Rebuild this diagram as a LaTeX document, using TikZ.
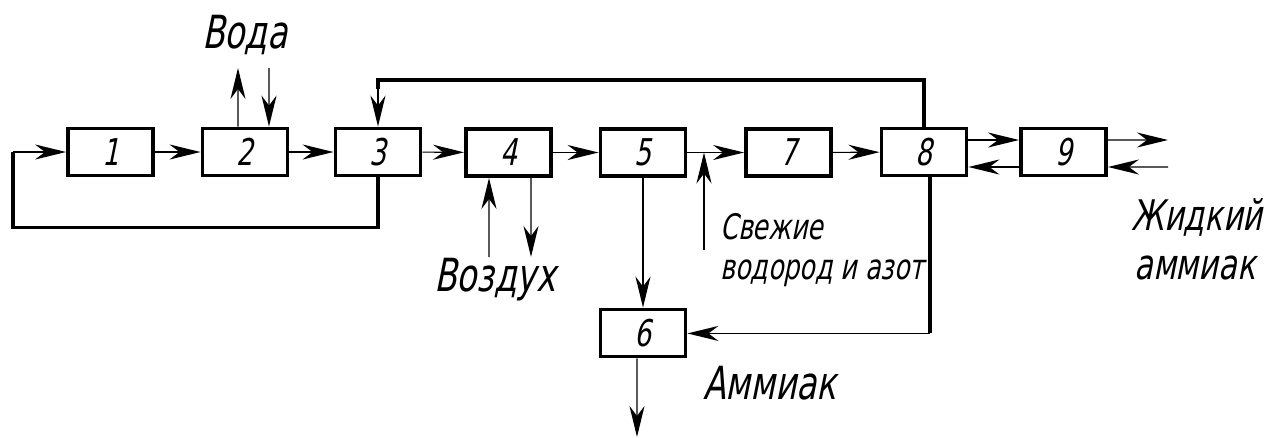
\documentclass[tikz,border=0pt]{standalone}
\usepackage{fontspec}
\setmainfont{DejaVu Sans}[FakeSlant=0.2,FakeStretch=0.72]
\usepackage{tikz}
\usetikzlibrary{arrows.meta,positioning,calc}

\begin{document}
\begin{tikzpicture}[
    x=0.02cm, y=-0.02cm,
    blok/.style={rectangle, draw, line width=2.2pt, minimum width=1.7cm, minimum height=0.94cm, inner sep=0pt, font=\fontsize{21}{23}\selectfont},
    pil/.style={-{Stealth[length=0.62cm, width=0.3cm, inset=0.2cm, line width=1.3pt]}, line width=0.6pt},
    tolst/.style={line width=2.2pt},
    txt/.style={inner sep=0pt, font=\fontsize{26}{28}\selectfont},
    txtsm/.style={inner sep=0pt, font=\fontsize{20}{22}\selectfont}
]
    \useasboundingbox (0,0) rectangle (1269,437);

    % Blocks
    \node[blok] (b1) at (110.5,152) {1};
    \node[blok] (b2) at (245,152) {2};
    \node[blok] (b3) at (378,152) {3};
    \node[blok] (b4) at (508.5,152.5) {4};
    \node[blok] (b5) at (643,152.5) {5};
    \node[blok] (b7) at (788.5,152.5) {7};
    \node[blok] (b8) at (924,152) {8};
    \node[blok] (b9) at (1063.5,152) {9};
    \node[blok] (b6) at (643,333) {6};

    % Free ends
    \coordinate (vodaUp) at (238,68);
    \coordinate (vodaIn) at (269,68);
    \coordinate (vozIn) at (489,257);
    \coordinate (vozOut) at (531,257);
    \coordinate (svIn) at (704,250);
    \coordinate (svJoin) at (704,152.5);
    \coordinate (ammOut) at (637,437);
    \coordinate (zhOut) at (1168,140);
    \coordinate (zhIn) at (1168,167);
    \coordinate (loopL) at (13,152);

    % Main line
    \draw[pil] (loopL) -- (b1);
    \draw[pil] (b1) -- (b2);
    \draw[pil] (b2) -- (b3);
    \draw[pil] (b3) -- (b4);
    \draw[pil] (b4) -- (b5);
    \draw[pil] (b5) -- (b7);
    \draw[pil] (b7) -- (b8);
    \draw[pil] ([yshift=0.24cm]b8.east) -- ([yshift=0.24cm]b9.west);
    \draw[pil] ([yshift=-0.3cm]b9.west) -- ([yshift=-0.3cm]b8.east);
    \draw[pil] ([yshift=0.24cm]b9.east) -- (zhOut);
    \draw[pil] (zhIn) -- ([yshift=-0.3cm]b9.east);

    % Side streams
    \draw[pil] ([xshift=-0.14cm]b2.north) -- (vodaUp);
    \draw[pil] (vodaIn) -- ([xshift=0.48cm]b2.north);
    \draw[pil] (vozIn) -- ([xshift=-0.39cm]b4.south);
    \draw[pil] ([xshift=0.45cm]b4.south) -- (vozOut);
    \draw[pil] (svIn) -- (svJoin);
    \draw[pil] (b5) -- (b6);
    \draw[pil] ([xshift=-0.12cm]b6.south) -- (ammOut);

    % Recycles
    \draw[tolst] (b3.south) -- ++(0,50) -| (loopL);
    \draw[tolst] (b8.north) -- ++(0,-47) -| ([yshift=0.75cm]b3.north);
    \draw[pil] ([yshift=0.75cm]b3.north) -- (b3.north);
    \draw[tolst] ([xshift=0.12cm]b8.south) -- ++(0,156) coordinate (ret);
    \draw[pil] (ret) -- (b6.east |- ret);

    % Labels
    \node[txt] (voda) at (245,35) {Вода};
    \node[txt] (vozduh) at (495,280) {Воздух};
    \node[txtsm, anchor=west] (svezh) at (720,227) {Свежие};
    \node[txtsm, anchor=west] (vodazot) at (720,273) {водород и азот};
    \node[txt, font=\fontsize{24}{26}\selectfont] (zhidk) at (1197,217) {Жидкий};
    \node[txt, font=\fontsize{24}{26}\selectfont] (zhamm) at (1195,268) {аммиак};
    \node[txt] (amm) at (770,383) {Аммиак};
\end{tikzpicture}
\end{document}
